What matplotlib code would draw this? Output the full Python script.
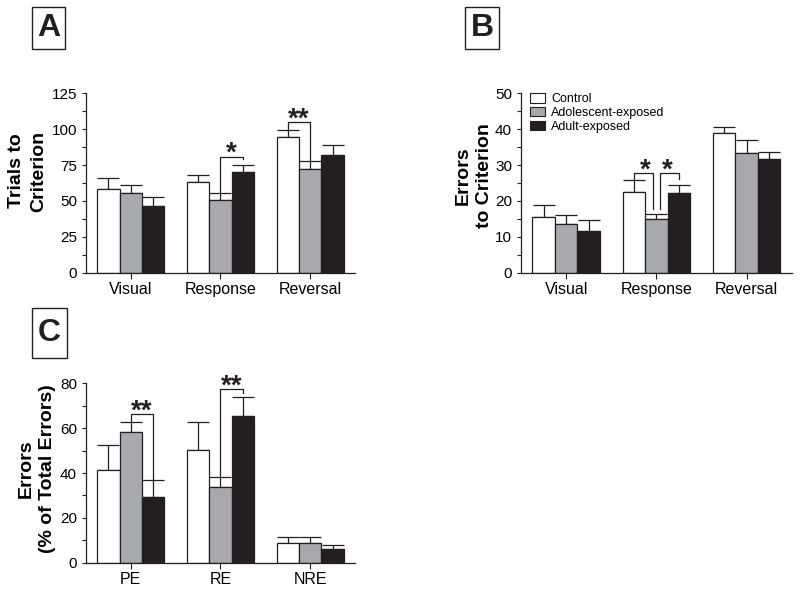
import numpy as np
import matplotlib
matplotlib.use("Agg")
import matplotlib.pyplot as plt
from matplotlib.patches import Rectangle, Patch
from matplotlib.ticker import MultipleLocator

plt.rcParams['font.family'] = ['Liberation Sans', 'DejaVu Sans']

# ---- data ----
series = ['Control', 'Adolescent-exposed', 'Adult-exposed']
colors = ['white', '#a7a9ac', '#231f20']

phases = ['Visual', 'Response', 'Reversal']
trials_mean = [[58.1, 63.2, 94.3], [55.8, 50.7, 72.5], [46.5, 70.2, 82.2]]
trials_sem = [[7.9, 5.1, 5.0], [5.5, 5.1, 5.1], [6.0, 5.1, 6.6]]

errors_mean = [[15.4, 22.6, 38.8], [13.6, 14.9, 33.4], [11.7, 22.3, 31.6]]
errors_sem = [[3.6, 3.1, 1.9], [2.4, 1.4, 3.6], [3.0, 2.1, 2.1]]

error_types = ['PE', 'RE', 'NRE']
pct_mean = [[41.3, 50.4, 8.9], [58.1, 33.6, 8.9], [29.3, 65.6, 6.1]]
pct_sem = [[11.2, 12.4, 2.7], [4.7, 4.6, 2.7], [7.6, 8.5, 1.8]]

# significance brackets: (group, bar i, bar j, top, left bottom, right bottom, label)
sig_trials = [(1, 1, 2, 80.9, 55.8, 79.0, '*'), (2, 0, 1, 105.0, 99.3, 77.6, '**')]
sig_errors = [(1, 0, 1, 27.7, 25.7, 17.7, '*'), (1, 1, 2, 27.7, 17.7, 26.0, '*')]
sig_pct = [(0, 1, 2, 66.3, 62.8, 36.9, '**'), (1, 1, 2, 77.3, 38.2, 75.5, '**')]

W, H = 800, 590
fig = plt.figure(figsize=(8, 5.9), dpi=100)

def px_axes(left, right, bottom, top):
    return fig.add_axes([left / W, 1 - bottom / H, (right - left) / W, (bottom - top) / H])

bar_w = 0.25
offsets = [-bar_w, 0.0, bar_w]
ink = '#231f20'


def draw_panel(ax, cats, means, sems, ymax, major, minor, sigs, bracket_shift=None):
    x = np.arange(len(cats))
    for k in range(3):
        ax.bar(x + offsets[k], means[k], bar_w, color=colors[k], edgecolor=ink,
               linewidth=0.9, zorder=2, label=series[k])
        ax.errorbar(x + offsets[k], means[k], yerr=[np.zeros(len(cats)), sems[k]],
                    fmt='none', ecolor=ink, elinewidth=0.9, capsize=8, capthick=0.9, zorder=1)
    ax.set_xlim(-0.5, 2.5)
    ax.set_ylim(0, ymax)
    ax.set_xticks(x)
    ax.set_xticklabels(cats, fontsize=11.5)
    ax.yaxis.set_major_locator(MultipleLocator(major))
    ax.yaxis.set_minor_locator(MultipleLocator(minor))
    ax.tick_params(axis='y', which='both', length=3, width=0.8, color=ink, labelsize=11, pad=3.5)
    ax.tick_params(axis='x', length=4, width=0.8, color=ink, pad=3)
    for s in ['top', 'right']:
        ax.spines[s].set_visible(False)
    for s in ['left', 'bottom']:
        ax.spines[s].set_linewidth(0.9)
        ax.spines[s].set_color(ink)
    for n, (g, i, j, top, lb, rb, lab) in enumerate(sigs):
        dl, dr = (0.0, 0.0) if bracket_shift is None else bracket_shift[n]
        xl = g + offsets[i] + dl
        xr = g + offsets[j] + dr
        ax.plot([xl, xl, xr, xr], [lb, top, top, rb], color=ink, lw=0.9, zorder=3)
        ax.annotate(lab, xy=((g + offsets[i] + g + offsets[j]) / 2, top), xytext=(0, -3.0),
                    textcoords='offset points', ha='center', va='baseline',
                    fontsize=20, fontweight='bold', color=ink)


axA = px_axes(86, 355, 272.7, 93.3)
draw_panel(axA, phases, trials_mean, trials_sem, 125, 25, 12.5, sig_trials)

axB = px_axes(521, 791.7, 272.7, 93.3)
draw_panel(axB, phases, errors_mean, errors_sem, 50, 10, 5, sig_errors,
           bracket_shift=[(0.0, -0.038), (0.037, 0.0)])

axC = px_axes(86, 355, 562.7, 383.3)
draw_panel(axC, error_types, pct_mean, pct_sem, 80, 20, 10, sig_pct)

# legend in panel B
handles = [Patch(facecolor=colors[k], edgecolor=ink, linewidth=0.8, label=series[k]) for k in range(3)]
axB.legend(handles=handles, loc='upper left', bbox_to_anchor=(0.035, 1.0), frameon=False,
           fontsize=9, handlelength=1.2, handleheight=0.75, handletextpad=0.45,
           labelspacing=0.15, borderpad=0, borderaxespad=0)

# y labels
ylab_kw = dict(rotation=90, ha='center', va='center', fontsize=14, fontweight='bold',
               linespacing=1.35)
fig.text(27.5 / W, 1 - 171 / H, 'Trials to\nCriterion', **ylab_kw)
fig.text(474 / W, 1 - 176 / H, 'Errors\nto Criterion', **ylab_kw)
fig.text(37 / W, 1 - 469 / H, 'Errors\n(% of Total Errors)', **ylab_kw)

# panel letters in boxes
for lab, (l, r, t, b) in [('A', (31.7, 65, 7.3, 49)), ('B', (465, 499, 7.3, 49)),
                          ('C', (31.7, 66.7, 308.3, 358.3))]:
    fig.add_artist(Rectangle((l / W, 1 - b / H), (r - l) / W, (b - t) / H,
                             transform=fig.transFigure, fill=False, edgecolor=ink, linewidth=1.0))
    fig.text((l + r) / 2 / W, 1 - (t + b) / 2 / H, lab, ha='center', va='center',
             fontsize=23, fontweight='bold', color=ink)

fig.savefig('out.png', dpi=100)
